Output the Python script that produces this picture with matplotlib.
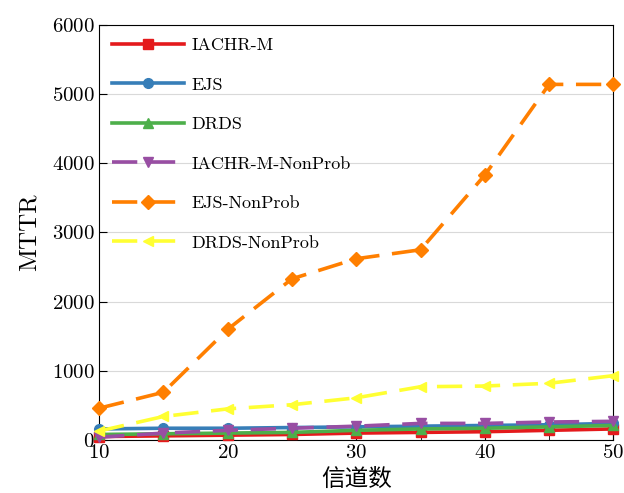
import matplotlib
matplotlib.use('Agg')
import matplotlib.pyplot as plt
from matplotlib.ticker import MultipleLocator

plt.rcParams['font.family'] = ['cmr10', 'Noto Sans CJK SC']
plt.rcParams['mathtext.fontset'] = 'cm'
plt.rcParams['axes.unicode_minus'] = False
plt.rcParams['axes.formatter.use_mathtext'] = True

channels = [10, 15, 20, 25, 30, 35, 40, 45, 50]

iachr_m = [50, 60, 70, 80, 100, 110, 120, 140, 160]
ejs = [160, 170, 170, 180, 190, 200, 210, 220, 240]
drds = [80, 90, 100, 110, 140, 160, 170, 190, 210]
iachr_m_np = [40, 100, 140, 170, 200, 240, 240, 260, 270]
ejs_np = [460, 690, 1600, 2330, 2620, 2750, 3830, 5140, 5140]
drds_np = [130, 340, 450, 510, 610, 770, 780, 820, 930]

labels = ['IACHR-M', 'EJS', 'DRDS', 'IACHR-M-NonProb', 'EJS-NonProb', 'DRDS-NonProb']
colors = ['#e41a1c', '#377eb8', '#4daf4a', '#984ea3', '#ff7f00', '#ffff33']
markers = ['s', 'o', '^', 'v', 'D', '<']
styles = ['-', '-', '-', '--', '--', '--']
series = [iachr_m, ejs, drds, iachr_m_np, ejs_np, drds_np]

fig = plt.figure(figsize=(6.24, 4.93), dpi=100)
ax = fig.add_axes([0.159, 0.1075, 0.824, 0.842])

for vals, lab, c, m, ls in zip(series, labels, colors, markers, styles):
    line, = ax.plot(channels, vals, color=c, marker=m, linewidth=2.6,
                    markersize=7, label=lab, clip_on=False, zorder=3)
    if ls == '--':
        line.set_dashes((7, 3.5))

ax.set_xlim(10, 50)
ax.set_ylim(0, 6000)
ax.xaxis.set_major_locator(MultipleLocator(10))
ax.xaxis.set_minor_locator(MultipleLocator(5))
ax.yaxis.set_major_locator(MultipleLocator(1000))
ax.tick_params(which='both', direction='in', labelsize=15, pad=3)
ax.tick_params(which='major', length=6)
ax.tick_params(which='minor', length=4)
ax.grid(axis='y', color='#d9d9d9', linewidth=0.8, zorder=0)
ax.set_axisbelow(True)

ax.set_xlabel('信道数', fontsize=17, family=['Noto Sans CJK SC'], labelpad=4)
ax.set_ylabel('MTTR', fontsize=18, labelpad=8)

ax.legend(loc='upper left', frameon=False, fontsize=13, handlelength=4,
          handletextpad=0.4, labelspacing=1.32, borderaxespad=0.3)

fig.savefig('out.png', dpi=100)
